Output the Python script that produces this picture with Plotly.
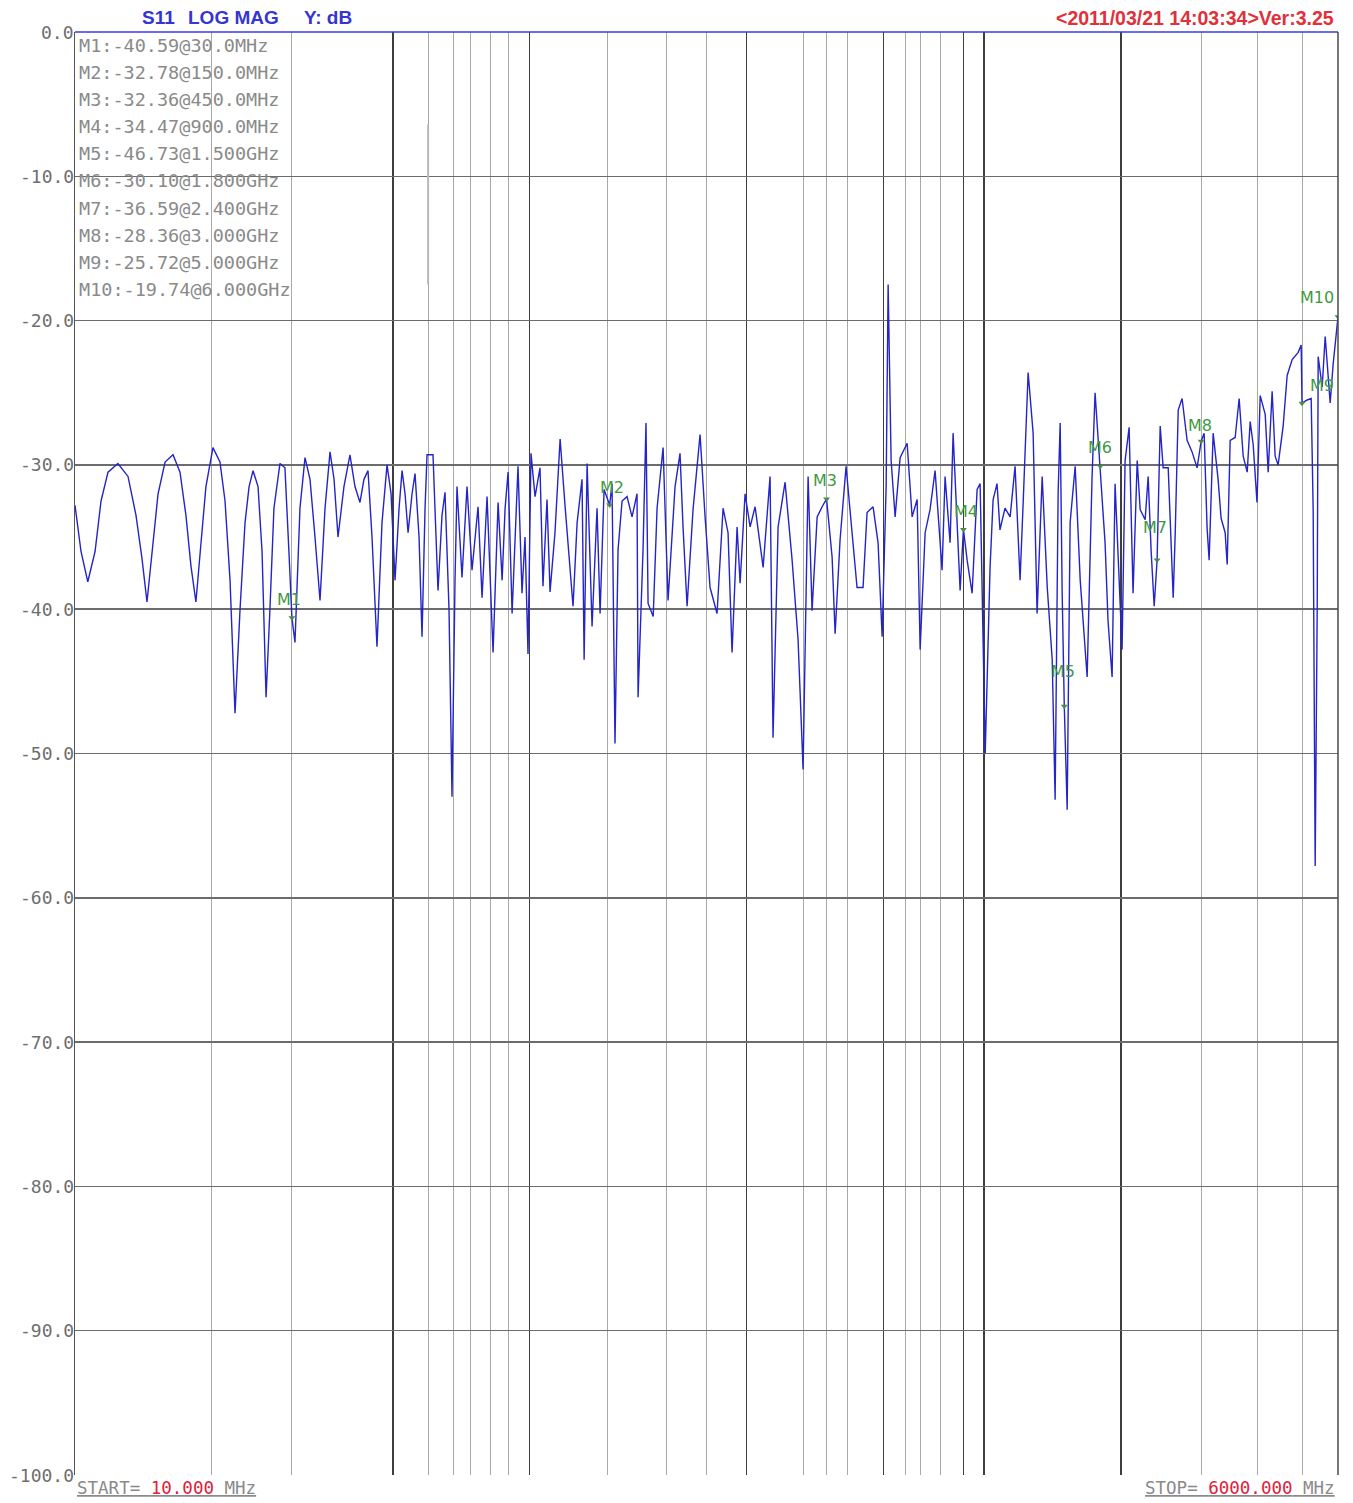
import numpy as np
import plotly.graph_objects as go

# ---------------- trace data (MHz, dB) ----------------
freq_a = [10.0, 10.31, 10.67, 11.07, 11.41, 11.82, 12.43, 13.08, 13.62, 14.04, 14.40, 14.77, 15.23, 15.78,
          16.43, 17.02, 17.54, 17.99, 18.45, 18.92, 19.41, 20.11, 20.84, 21.38, 21.93, 22.49, 23.07, 23.66,
          24.15, 24.64, 25.27, 25.79, 26.32, 26.84, 27.39, 28.24, 28.96, 29.55, 30.0, 30.47]
db_a = [-32.8, -36.0, -38.1, -36.0, -32.5, -30.5, -29.9, -30.8, -33.5, -36.5, -39.5, -36.0, -32.0, -29.8,
        -29.3, -30.5, -33.5, -37.0, -39.5, -35.5, -31.5, -28.8, -29.8, -32.5, -38.0, -47.2, -40.0, -34.0,
        -31.5, -30.4, -31.5, -36.0, -46.1, -40.0, -33.0, -29.9, -30.2, -36.0, -40.59, -42.3]

freq_b = [31.25, 32.06, 32.88, 33.72, 34.59, 35.48, 36.39, 37.14, 37.89, 39.05, 40.25, 41.29, 42.35, 43.21,
          44.11, 45.01, 46.16, 47.35, 48.57, 49.57, 50.58, 51.62, 52.41, 53.21, 54.03, 55.13, 55.97, 57.12,
          57.99, 58.88, 59.48, 61.30, 62.88, 64.16, 65.15, 66.48, 67.50, 68.53, 69.23, 71.00, 72.83, 74.70,
          77.01, 78.59, 80.61, 83.10, 85.24, 87.00, 88.32, 89.68]
db_b = [-33.0, -29.5, -31.0, -35.0, -39.4, -33.0, -29.1, -31.0, -35.0, -31.5, -29.3, -31.5, -32.6, -31.0,
        -30.4, -35.0, -42.6, -34.0, -30.0, -32.0, -38.0, -33.0, -30.4, -32.0, -34.7, -32.0, -30.6, -35.0,
        -41.9, -33.0, -29.3, -29.3, -38.7, -33.5, -31.9, -40.0, -53.0, -38.0, -31.5, -37.8, -31.5, -37.3,
        -32.9, -39.2, -32.2, -43.0, -32.6, -38.0, -33.0, -30.5]

freq_c = [91.51, 94.29, 96.22, 97.70, 99.19, 100.7, 102.8, 105.4, 107.0, 109.2, 110.9, 113.7, 116.7, 119.7,
          122.8, 124.6, 127.2, 130.4, 131.8, 133.8, 137.2, 140.7, 142.9, 145.8, 150.0, 151.8, 154.1, 156.5,
          159.7, 163.8, 168.0, 172.3, 173.2, 177.6, 180.3, 182.2, 187.0, 190.7, 196.6, 201.6, 208.9, 214.2,
          217.5, 222.0, 228.8, 237.1, 243.2, 249.4, 258.4, 266.4, 273.2]
db_c = [-40.3, -30.1, -38.9, -35.0, -43.1, -29.2, -32.2, -30.2, -38.4, -32.4, -38.8, -34.7, -28.2, -32.9,
        -37.5, -39.8, -34.0, -31.0, -43.5, -29.9, -41.2, -33.0, -40.3, -31.7, -32.78, -31.3, -49.3, -35.9,
        -32.5, -32.2, -33.6, -32.0, -46.1, -35.9, -27.1, -39.6, -40.5, -33.0, -28.8, -39.4, -31.5, -29.2,
        -34.3, -39.8, -33.1, -27.9, -33.6, -38.5, -40.3, -33.0, -34.7]

freq_d = [278.8, 286.0, 290.4, 297.8, 305.5, 313.3, 326.3, 338.0, 343.1, 352.0, 364.7, 377.9, 389.5, 399.5,
          409.8, 418.1, 429.0, 440.0, 450.0, 462.8, 469.9, 481.8, 496.7, 512.0, 525.1, 541.3, 552.4, 569.5,
          584.1, 596.2, 608.4, 614.6, 617.7, 624.0, 636.8, 653.1, 676.7, 694.0, 711.9, 722.8, 741.3, 760.0,
          779.6, 807.7, 820.1, 841.2, 854.1, 871.6, 885.0, 900.0, 917.0, 940.5, 964.6, 979.4]
db_d = [-43.0, -34.3, -38.2, -32.0, -34.3, -32.9, -37.1, -30.8, -48.9, -34.3, -31.2, -36.6, -42.1, -51.1,
        -30.8, -40.1, -33.6, -32.9, -32.36, -36.4, -41.7, -35.2, -30.1, -34.7, -38.5, -38.5, -33.3, -32.9,
        -35.4, -41.9, -31.5, -17.5, -21.8, -29.7, -33.6, -29.5, -28.5, -33.6, -32.4, -42.8, -34.7, -33.1,
        -30.4, -37.3, -30.8, -35.4, -27.8, -34.3, -38.7, -34.47, -36.6, -38.9, -31.7, -31.3]

freq_e = [1005, 1030, 1046, 1067, 1083, 1111, 1140, 1169, 1199, 1218, 1249, 1281, 1307, 1341, 1376, 1411,
          1432, 1454, 1469, 1484, 1500, 1522, 1545, 1585, 1626, 1684, 1726, 1753, 1800, 1844, 1872, 1911,
          1940, 2010, 2041, 2083, 2125, 2170, 2203, 2259, 2294, 2329, 2365, 2400]
db_e = [-50.0, -37.1, -32.4, -31.3, -34.5, -33.0, -33.6, -30.1, -38.0, -32.6, -23.6, -27.8, -40.3, -30.8,
        -38.5, -43.5, -53.2, -31.9, -27.1, -38.9, -46.73, -53.9, -34.0, -30.1, -38.0, -44.7, -31.0, -25.0,
        -30.10, -35.4, -40.8, -44.7, -31.3, -42.8, -29.7, -27.4, -38.9, -29.7, -33.1, -33.8, -30.8, -36.0,
        -39.8, -36.59]

freq_f = [2438, 2475, 2539, 2604, 2631, 2671, 2724, 2794, 2865, 2939, 3000, 3046, 3092, 3124, 3188, 3269,
          3319, 3388, 3423, 3475, 3564, 3637, 3712, 3788, 3846, 3905, 3981, 4046, 4150, 4213, 4298, 4364,
          4431, 4545, 4638, 4757, 4904, 4979, 5000, 5133, 5238, 5291, 5345, 5400, 5427, 5538, 5623, 5767,
          5855, 5945, 6000]
db_f = [-27.3, -30.2, -30.2, -39.2, -34.7, -26.2, -25.4, -28.3, -29.1, -30.2, -28.36, -27.8, -34.4, -36.6,
        -27.8, -31.0, -33.7, -34.7, -36.9, -28.3, -28.1, -25.4, -29.4, -30.5, -27.0, -28.6, -32.6, -25.2,
        -26.5, -30.5, -24.9, -29.4, -30.0, -27.3, -23.8, -22.7, -22.2, -21.7, -25.72, -25.5, -25.4, -33.1,
        -57.8, -40.0, -22.5, -24.6, -21.1, -25.7, -23.0, -20.7, -19.74]

# ---------------- markers ----------------
marker_names = ["M1", "M2", "M3", "M4", "M5", "M6", "M7", "M8", "M9", "M10"]
marker_freq = [30, 150, 450, 900, 1500, 1800, 2400, 3000, 5000, 6000]
marker_db = [-40.59, -32.78, -32.36, -34.47, -46.73, -30.10, -36.59, -28.36, -25.72, -19.74]
readout_lines = ["M1:-40.59@30.0MHz", "M2:-32.78@150.0MHz", "M3:-32.36@450.0MHz", "M4:-34.47@900.0MHz",
                 "M5:-46.73@1.500GHz", "M6:-30.10@1.800GHz", "M7:-36.59@2.400GHz", "M8:-28.36@3.000GHz",
                 "M9:-25.72@5.000GHz", "M10:-19.74@6.000GHz"]

# small grey stroke seen in the upper-left area
stroke_freq = [59.8, 59.8]
stroke_db = [-6.4, -17.5]

# ---------------- grid / ticks ----------------
grid_major_mhz = [50, 100, 300, 600, 900, 1000, 2000]
grid_minor_mhz = [20, 30, 60, 68, 74, 82, 90, 148, 200, 245, 400, 450, 500, 670, 725, 800, 3000, 4000, 5000]
y_ticks = list(range(-100, 1, 10))
y_ticktext = [f"{v:.1f}" for v in y_ticks]

freq = freq_a + freq_b + freq_c + freq_d + freq_e + freq_f
s11 = db_a + db_b + db_c + db_d + db_e + db_f
assert len(freq) == len(s11)

W, H = 1353, 1503
ML, MR, MT, MB = 75, 15, 32, 28
PH = H - MT - MB
PW = W - ML - MR

fig = go.Figure()
fig.add_trace(go.Scatter(x=stroke_freq, y=stroke_db, mode="lines",
                         line=dict(color="#b8b8b8", width=2), hoverinfo="skip"))
fig.add_trace(go.Scatter(x=freq, y=s11, mode="lines",
                         line=dict(color="#2424c8", width=1.4), hoverinfo="skip"))
fig.add_trace(go.Scatter(x=marker_freq, y=marker_db, mode="markers",
                         marker=dict(symbol="triangle-down", size=6, color="#4a8a4a"),
                         hoverinfo="skip"))

label_shift = {"M1": (-3, 18), "M2": (2, 18), "M3": (-2, 18), "M4": (3, 18), "M5": (-1, 35),
               "M6": (0, 19), "M7": (-2, 32), "M8": (-1, 16), "M9": (20, 18), "M10": (-21, 19)}
annotations = []
for n, f, v in zip(marker_names, marker_freq, marker_db):
    dx, dy = label_shift[n]
    annotations.append(dict(x=np.log10(f), y=v, xref="x", yref="y", text=n, showarrow=False,
                            xshift=dx, yshift=dy, font=dict(family="DejaVu Sans", size=16, color="#3f9a3f")))

# y tick labels, drawn right against the left frame line
for v, t in zip(y_ticks, y_ticktext):
    annotations.append(dict(x=0, y=v, xref="paper", yref="y", xanchor="right", yanchor="middle",
                            xshift=1, text=t, showarrow=False,
                            font=dict(family="DejaVu Sans Mono", size=18, color="#6e6e6e")))

for i, line in enumerate(readout_lines):
    ypx = 45 + 27.2 * i
    annotations.append(dict(x=0, y=1 - (ypx - MT) / PH, xref="paper", yref="paper", xanchor="left",
                            yanchor="middle", xshift=2, text=line, showarrow=False,
                            font=dict(family="DejaVu Sans Mono", size=18.5, color="#8a8a8a")))

hdr_font = dict(family="Liberation Sans", size=19, color="#3535d2")
hdr_y = 1 + (MT - 18) / PH
for txt, xpx in [("<b>S11</b>", 140), ("<b>LOG MAG</b>", 186), ("<b>Y: dB</b>", 302)]:
    annotations.append(dict(x=(xpx - ML) / PW, y=hdr_y, xref="paper", yref="paper",
                            xanchor="left", yanchor="middle", text=txt, showarrow=False, font=hdr_font))
annotations.append(dict(x=(1336 - ML) / PW, y=hdr_y, xref="paper", yref="paper",
                        xanchor="right", yanchor="middle", text="<b>&lt;2011/03/21 14:03:34&gt;Ver:3.25</b>",
                        showarrow=False, font=dict(family="Liberation Sans", size=19.5, color="#e0303a")))

bot_y = -(1488 - (H - MB)) / PH
annotations.append(dict(x=0, y=bot_y, xref="paper", yref="paper", xanchor="left", yanchor="middle",
                        text="<u>START= <span style='color:#e0203a'>10.000</span> MHz</u>", showarrow=False,
                        font=dict(family="DejaVu Sans Mono", size=17.5, color="#8a8a8a")))
annotations.append(dict(x=(1337 - ML) / PW, y=bot_y, xref="paper", yref="paper",
                        xanchor="right", yanchor="middle",
                        text="<u>STOP= <span style='color:#e0203a'>6000.000</span> MHz</u>", showarrow=False,
                        font=dict(family="DejaVu Sans Mono", size=17.5, color="#8a8a8a")))

shapes = [
    dict(type="line", xref="paper", yref="paper", x0=0, x1=1, y0=1, y1=1,
         line=dict(color="#3b3be0", width=1.5)),
    dict(type="line", xref="paper", yref="paper", x0=1, x1=1, y0=0, y1=1,
         line=dict(color="#4a4a4a", width=1.5)),
]

fig.update_layout(
    width=W, height=H, margin=dict(l=ML, r=MR, t=MT, b=MB, autoexpand=False),
    paper_bgcolor="white", plot_bgcolor="white", showlegend=False,
    annotations=annotations, shapes=shapes,
    xaxis=dict(type="log", range=[1, np.log10(6000)], tickmode="array", tickvals=grid_major_mhz,
               showticklabels=False, ticks="", showgrid=True, gridcolor="#3e3e3e", gridwidth=1.5,
               zeroline=False, showline=False, automargin=False,
               minor=dict(tickmode="array", tickvals=grid_minor_mhz, showgrid=True,
                          gridcolor="#a9a9a9", gridwidth=1, ticks="")),
    yaxis=dict(range=[-100, 0], tickmode="array", tickvals=y_ticks, showticklabels=False,
               showgrid=True, gridcolor="#6c6c6c", gridwidth=1.5, zeroline=False, automargin=False,
               showline=True, linecolor="#555555", linewidth=1.5, ticks=""),
)

fig.write_html("out.html", config={"displayModeBar": False, "staticPlot": True},
               post_script="document.body.style.margin='0px';document.body.style.overflow='hidden';")
